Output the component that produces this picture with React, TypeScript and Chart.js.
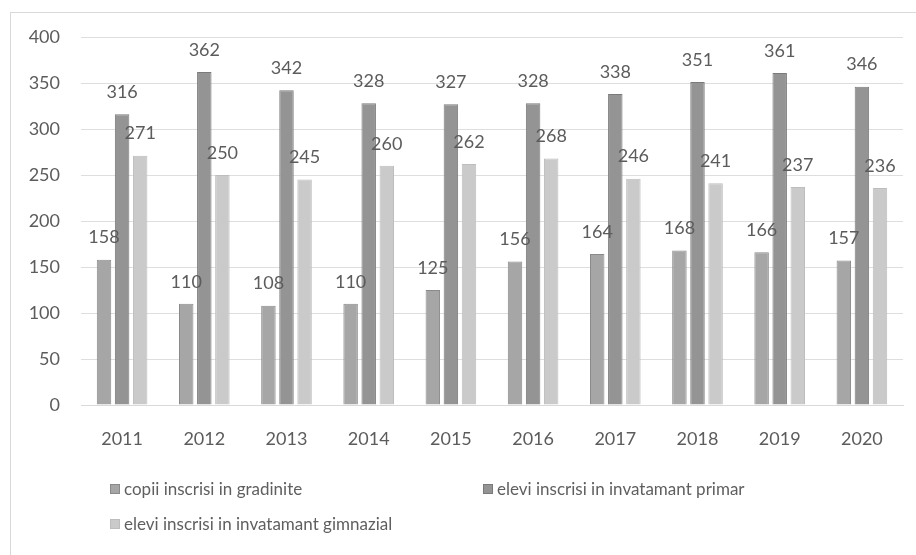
import React, { useEffect, useRef } from "react";
import { Chart, registerables } from "chart.js";

Chart.register(...registerables);

const years = ["2011", "2012", "2013", "2014", "2015", "2016", "2017", "2018", "2019", "2020"];
const copii = [158, 110, 108, 110, 125, 156, 164, 168, 166, 157];
const primar = [316, 362, 342, 328, 327, 328, 338, 351, 361, 346];
const gimnazial = [271, 250, 245, 260, 262, 268, 246, 241, 237, 236];
const seriesNames = [
  "copii inscrisi in gradinite",
  "elevi inscrisi in invatamant primar",
  "elevi inscrisi in invatamant gimnazial",
];
const seriesFill = ["#a6a6a6", "#949494", "#cacaca"];
const seriesBorder = ["#8a8a8a", "#7a7a7a", "#bdbdbd"];
const yTicks = [0, 50, 100, 150, 200, 250, 300, 350, 400];

const FONT = "Lato, 'Open Sans', sans-serif";

const valueLabels = {
  id: "valueLabels",
  afterDatasetsDraw(chart: any) {
    const ctx = chart.ctx;
    ctx.save();
    ctx.font = `18px ${FONT}`;
    ctx.fillStyle = "#5c5c5c";
    ctx.textAlign = "center";
    ctx.textBaseline = "middle";
    chart.data.datasets.forEach((ds: any, di: number) => {
      const meta = chart.getDatasetMeta(di);
      meta.data.forEach((el: any, i: number) => {
        ctx.fillText(String(ds.data[i]), el.x, el.y - 22);
      });
    });
    ctx.restore();
  },
};

export default function App() {
  const ref = useRef<HTMLCanvasElement | null>(null);

  useEffect(() => {
    if (!ref.current) return;
    const values = [copii, primar, gimnazial];
    const chart = new Chart(ref.current, {
      type: "bar",
      data: {
        labels: years,
        datasets: values.map((v, i) => ({
          label: seriesNames[i],
          data: v,
          backgroundColor: seriesFill[i],
          borderColor: seriesBorder[i],
          borderWidth: 1,
          categoryPercentage: 0.66,
          barPercentage: 0.8,
        })),
      },
      options: {
        animation: false,
        responsive: false,
        maintainAspectRatio: false,
        layout: { padding: { top: 37, right: 13, left: 0, bottom: 0 } },
        plugins: {
          legend: { display: false },
          tooltip: { enabled: false },
        },
        scales: {
          x: {
            grid: { display: false, drawTicks: false },
            border: { display: true, color: "#d9d9d9" },
            ticks: {
              color: "#5c5c5c",
              font: { family: FONT, size: 18 },
              padding: 23,
            },
            afterFit: (s: any) => {
              s.height = 150;
            },
          },
          y: {
            min: 0,
            max: 400,
            afterBuildTicks: (s: any) => {
              s.ticks = yTicks.map((v) => ({ value: v }));
            },
            grid: { color: "#dedede", drawTicks: false },
            border: { display: false },
            ticks: {
              color: "#5c5c5c",
              font: { family: FONT, size: 18 },
              padding: 21,
            },
            afterFit: (s: any) => {
              s.width = 81;
            },
          },
        },
      },
      plugins: [valueLabels],
    });
    return () => chart.destroy();
  }, []);

  return (
    <div
      style={{
        position: "fixed",
        left: 0,
        top: 0,
        width: 916,
        height: 555,
        background: "#ffffff",
        overflow: "hidden",
      }}
    >
      <div
        style={{
          position: "absolute",
          left: 10,
          top: 12,
          width: 1000,
          height: 1000,
          border: "1px solid #d9d9d9",
        }}
      />
      <canvas
        ref={ref}
        width={916}
        height={555}
        style={{ position: "absolute", left: 0, top: 0, width: 916, height: 555 }}
      />
      <div
        style={{
          position: "absolute",
          left: 110,
          top: 471,
          display: "grid",
          gridTemplateColumns: "373px auto",
          gridAutoRows: "35px",
          fontFamily: FONT,
          fontSize: 17,
          color: "#5f5f5f",
        }}
      >
        {seriesNames.map((n, i) => (
          <div key={n} style={{ display: "flex", alignItems: "center", whiteSpace: "nowrap" }}>
            <span
              style={{
                display: "inline-block",
                width: 8,
                height: 8,
                background: seriesFill[i],
                border: `1px solid ${seriesBorder[i]}`,
                marginRight: 4,
              }}
            />
            {n}
          </div>
        ))}
      </div>
    </div>
  );
}
